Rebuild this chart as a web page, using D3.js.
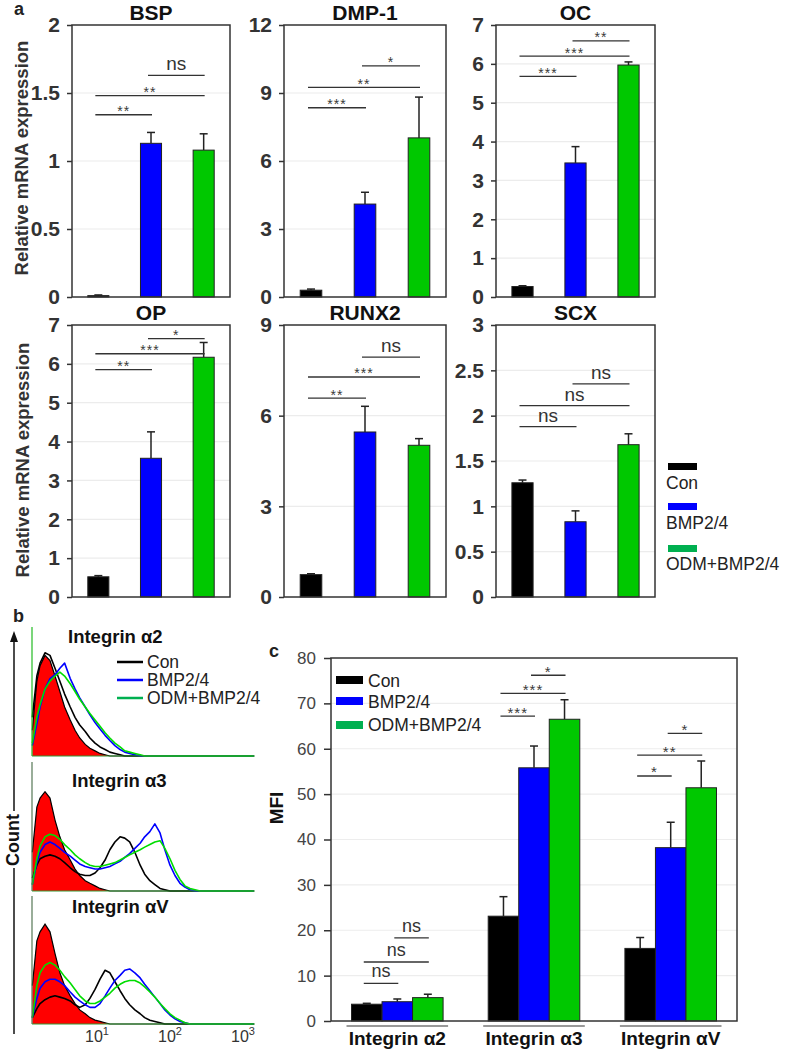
<!DOCTYPE html>
<html><head><meta charset="utf-8">
<script src="https://cdn.jsdelivr.net/npm/d3@7"></script>
<style>body{margin:0;background:#fff}svg{display:block}</style>
</head><body>
<script>
// ================= DATA =================
const groups = ["Con", "BMP2/4", "ODM+BMP2/4"];
const barColors = ["#000000", "#0000ff", "#00c800"];
const legendColors = ["#000000", "#0000ff", "#00b050"];

// panel a : relative mRNA expression
const genes = ["BSP", "DMP-1", "OC", "OP", "RUNX2", "SCX"];
const geneMax = [2, 12, 7, 7, 9, 3];
const geneTicks = [
  [0, 0.5, 1, 1.5, 2],
  [0, 3, 6, 9, 12],
  [0, 1, 2, 3, 4, 5, 6, 7],
  [0, 1, 2, 3, 4, 5, 6, 7],
  [0, 3, 6, 9],
  [0, 0.5, 1, 1.5, 2, 2.5, 3]
];
const geneMeans = [
  [0.01, 1.13, 1.08],
  [0.30, 4.10, 7.02],
  [0.27, 3.45, 5.97],
  [0.52, 3.57, 6.17],
  [0.74, 5.46, 5.02],
  [1.26, 0.83, 1.68]
];
const geneErrs = [
  [0.005, 0.08, 0.12],
  [0.05, 0.52, 1.80],
  [0.02, 0.42, 0.08],
  [0.03, 0.68, 0.38],
  [0.03, 0.85, 0.22],
  [0.03, 0.12, 0.12]
];
const geneSig = [
  [[0, 1, 1.34, "**"], [0, 2, 1.48, "**"], [1, 2, 1.63, "ns"]],
  [[0, 1, 8.35, "***"], [0, 2, 9.25, "**"], [1, 2, 10.2, "*"]],
  [[0, 1, 5.68, "***"], [0, 2, 6.20, "***"], [1, 2, 6.59, "**"]],
  [[0, 1, 5.85, "**"], [0, 2, 6.26, "***"], [1, 2, 6.65, "*"]],
  [[0, 1, 6.58, "**"], [0, 2, 7.28, "***"], [1, 2, 7.94, "ns"]],
  [[0, 1, 1.88, "ns"], [0, 2, 2.11, "ns"], [1, 2, 2.35, "ns"]]
];

// panel b : flow cytometry histograms (fluorescence channel vs relative count, % of panel height)
const histTitles = ["Integrin \u03b12", "Integrin \u03b13", "Integrin \u03b1V"];
const fluor = [1.3, 1.5, 1.66, 1.94, 2.27, 2.66, 3.1, 3.6, 4.3, 5.0, 5.8, 6.9, 8.0, 9.4, 11, 12.9, 15, 17.6,
  20.7, 24, 28, 33, 39, 45, 53, 62, 73, 85, 100, 117, 137, 160, 188, 220, 258, 1400];
const isoA2 = [20,58,70,78,74,62,50,38,28,20,14,9,6,4,2,1,0,0,0,0,0,0,0,0,0,0,0,0,0,0,0,0,0,0,0,0];
const conA2 = [30,62,72,80,78,68,58,48,38,30,24,19,14,10,7,5,3,2,1,0,0,0,0,0,0,0,0,0,0,0,0,0,0,0,0,0];
const bmpA2 = [8,25,38,52,60,63,68,72,60,52,45,38,32,26,21,16,12,8,5,3,2,1,0,0,0,0,0,0,0,0,0,0,0,0,0,0];
const odmA2 = [10,30,40,52,58,62,65,62,56,50,44,38,33,28,23,18,14,10,7,4,3,2,1,0,0,0,0,0,0,0,0,0,0,0,0,0];
const isoA3 = [30,65,72,77,72,55,42,32,24,17,12,8,6,4,2,1,0,0,0,0,0,0,0,0,0,0,0,0,0,0,0,0,0,0,0,0];
const conA3 = [10,20,25,27,28,27,25,22,18,15,13,12,12,14,18,24,32,38,42,41,38,30,20,13,8,5,2,1,0,0,0,0,0,0,0,0];
const bmpA3 = [5,22,30,36,38,36,33,30,27,24,21,19,18,17,17,18,19,21,23,26,29,33,37,42,46,52,45,32,20,12,6,3,1,0,0,0];
const odmA3 = [5,25,35,42,44,43,40,36,32,28,25,22,20,19,19,20,21,22,24,26,28,30,32,34,36,38,39,33,25,16,9,4,2,1,0,0];
const isoAV = [30,65,72,78,72,55,40,30,22,16,11,8,5,3,2,1,0,0,0,0,0,0,0,0,0,0,0,0,0,0,0,0,0,0,0,0];
const conAV = [5,12,16,19,21,22,21,20,18,15,13,15,20,27,35,42,40,33,26,20,15,11,8,5,3,2,1,0,0,0,0,0,0,0,0,0];
const bmpAV = [5,20,28,33,35,35,33,30,25,21,18,15,13,13,16,22,28,34,38,42,43,40,36,31,26,21,16,11,7,4,2,1,0,0,0,0];
const odmAV = [5,30,40,46,48,46,42,37,32,27,22,18,16,16,18,21,24,28,31,33,34,34,32,29,25,21,16,12,8,5,3,1,0,0,0,0];
const histIso = [isoA2, isoA3, isoAV];
const histSeries = [[conA2, bmpA2, odmA2], [conA3, bmpA3, odmA3], [conAV, bmpAV, odmAV]];
const histColors = ["#000000", "#0000ff", "#00dd00"];
const fluorTicks = [10, 100, 1000];

// panel c : MFI
const integrins = ["Integrin \u03b12", "Integrin \u03b13", "Integrin \u03b1V"];
const mfiMeans = [[3.7, 4.25, 5.15], [23.1, 55.8, 66.5], [16.0, 38.2, 51.4]];
const mfiErrs = [[0.2, 0.6, 0.75], [4.3, 4.8, 4.3], [2.4, 5.6, 5.9]];
const mfiTicks = [0, 10, 20, 30, 40, 50, 60, 70, 80];
const mfiSig = [
  [[0, 1, 8.3, "ns"], [0, 2, 13.0, "ns"], [1, 2, 18.3, "ns"]],
  [[0, 1, 67.2, "***"], [0, 2, 72.2, "***"], [1, 2, 76.2, "*"]],
  [[0, 1, 54.0, "*"], [0, 2, 58.6, "**"], [1, 2, 63.4, "*"]]
];

// ================= DRAW =================
const F = "'Liberation Sans', Arial, Helvetica, sans-serif";
const svg = d3.select("body").append("svg").attr("width", 787).attr("height", 1052)
  .attr("font-family", F);

function txt(g, x, y, s, size, weight, anchor, fill) {
  return g.append("text").attr("x", x).attr("y", y).text(s)
    .attr("font-size", size).attr("font-weight", weight || "normal")
    .attr("text-anchor", anchor || "start").attr("fill", fill || "#222");
}

// ---------- panel a
const aCols = [[72, 230], [284, 446], [496, 655]];
const aRows = [[25, 297], [325, 597]];
txt(svg, 14, 15, "a", 18, "bold");

genes.forEach((gName, i) => {
  const [x0, x1] = aCols[i % 3];
  const [y0, y1] = aRows[Math.floor(i / 3)];
  const x = d3.scaleBand().domain(groups).range([x0, x1]).paddingInner(0.6).paddingOuter(0.3);
  const y = d3.scaleLinear().domain([0, geneMax[i]]).range([y1, y0]);
  const g = svg.append("g");
  const cx = j => x(groups[j]) + x.bandwidth() / 2;

  g.selectAll("line.grid").data(geneTicks[i].slice(1, -1)).join("line")
    .attr("x1", x0).attr("x2", x1).attr("y1", d => y(d)).attr("y2", d => y(d))
    .attr("stroke", "#ececec").attr("stroke-width", 1.2);

  g.selectAll("line.err").data(geneMeans[i]).join("line")
    .attr("x1", (d, j) => cx(j)).attr("x2", (d, j) => cx(j))
    .attr("y1", d => y(d)).attr("y2", (d, j) => y(d + geneErrs[i][j]))
    .attr("stroke", "#222").attr("stroke-width", 1.5);
  g.selectAll("line.cap").data(geneMeans[i]).join("line")
    .attr("x1", (d, j) => cx(j) - 4).attr("x2", (d, j) => cx(j) + 4)
    .attr("y1", (d, j) => y(d + geneErrs[i][j])).attr("y2", (d, j) => y(d + geneErrs[i][j]))
    .attr("stroke", "#222").attr("stroke-width", 1.5);

  g.selectAll("rect.bar").data(geneMeans[i]).join("rect")
    .attr("x", (d, j) => x(groups[j])).attr("width", x.bandwidth())
    .attr("y", d => y(d)).attr("height", d => y1 - y(d))
    .attr("fill", (d, j) => barColors[j]).attr("stroke", "#222").attr("stroke-width", 1);

  g.append("rect").attr("x", x0).attr("y", y0).attr("width", x1 - x0).attr("height", y1 - y0)
    .attr("fill", "none").attr("stroke", "#333").attr("stroke-width", 1.5);

  const ax = g.append("g").attr("transform", `translate(${x0},0)`)
    .call(d3.axisLeft(y).tickValues(geneTicks[i]).tickFormat(d3.format("~g")).tickSize(5).tickPadding(7));
  ax.select(".domain").remove();
  ax.selectAll(".tick line").attr("stroke", "#333").attr("stroke-width", 1.5);
  ax.selectAll(".tick text").attr("font-family", F).attr("font-size", 21)
    .attr("font-weight", "bold").attr("fill", "#333");

  txt(g, (x0 + x1) / 2, y0 - 5, gName, 21, "bold", "middle", "#111");

  geneSig[i].forEach(([a, b, v, lab]) => {
    const xa = cx(a) - 3, xb = cx(b) + 1, yy = y(v);
    g.append("line").attr("x1", xa).attr("x2", xb).attr("y1", yy).attr("y2", yy)
      .attr("stroke", "#333").attr("stroke-width", 1.3);
    if (lab === "ns") txt(g, (xa + xb) / 2, yy - 5, lab, 19, "normal", "middle", "#333");
    else txt(g, (xa + xb) / 2, yy + 1.5, lab, 14, "normal", "middle", "#3a3a3a").attr("letter-spacing", 1);
  });
});

[[28, 158], [29, 460]].forEach(([lx, ly]) => {
  svg.append("text").attr("transform", `translate(${lx},${ly}) rotate(-90)`)
    .attr("text-anchor", "middle").attr("font-size", 18.5).attr("font-weight", "bold")
    .attr("fill", "#333").text("Relative mRNA expression");
});

// legend a
const legA = svg.append("g");
const legAY = [463, 503, 545], legATY = [489, 529, 570];
groups.forEach((gr, j) => {
  legA.append("rect").attr("x", 668).attr("y", legAY[j]).attr("width", 29).attr("height", 7)
    .attr("fill", legendColors[j]);
  txt(legA, 666, legATY[j], gr, 17.5, "normal", "start", "#222");
});

// ---------- panel b
txt(svg, 13, 622, "b", 18, "bold");
const bX = [32, 255];
const bRows = [[627, 756], [762, 891], [896, 1024]];
const bx = d3.scaleLog().domain([1, 1000]).range([24, 243]);
const bTitleX = [68, 72, 72], bTitleY = [643, 787, 913];

bRows.forEach(([t, b], k) => {
  const y = d3.scaleLinear().domain([0, 100]).range([b, t]);
  const g = svg.append("g");
  const area = d3.area().x((d, i) => bx(fluor[i])).y0(b).y1(d => y(d));
  const line = d3.line().x((d, i) => bx(fluor[i])).y(d => y(d));
  g.append("path").datum(histIso[k]).attr("d", area).attr("fill", "#ff0000");
  g.append("path").datum(histIso[k]).attr("d", line).attr("fill", "none")
    .attr("stroke", "#000").attr("stroke-width", 1.2);
  histSeries[k].forEach((s, j) => {
    g.append("path").datum(s).attr("d", line).attr("fill", "none")
      .attr("stroke", histColors[j]).attr("stroke-width", 1.6).attr("stroke-linejoin", "round");
  });
  g.append("line").attr("x1", bX[0]).attr("x2", bX[0]).attr("y1", t).attr("y2", b)
    .attr("stroke", k === 0 ? "#22bb22" : "#557755").attr("stroke-width", 1.2);
  g.append("line").attr("x1", bX[0]).attr("x2", bX[1]).attr("y1", b).attr("y2", b)
    .attr("stroke", "#339933").attr("stroke-width", 1.2);
  txt(g, bTitleX[k], bTitleY[k], histTitles[k], 18.5, "bold", "start", "#111");
});

fluorTicks.forEach((v) => {
  const tx = svg.append("text").attr("x", bx(v)).attr("y", 1042).attr("text-anchor", "middle")
    .attr("font-size", 16).attr("fill", "#333");
  tx.append("tspan").text("10");
  tx.append("tspan").text(String(Math.round(Math.log10(v)))).attr("font-size", 11).attr("dy", -7);
});

// Count axis with arrow
svg.append("line").attr("x1", 14).attr("x2", 14).attr("y1", 640).attr("y2", 811)
  .attr("stroke", "#111").attr("stroke-width", 1.5);
svg.append("line").attr("x1", 14).attr("x2", 14).attr("y1", 868).attr("y2", 1034)
  .attr("stroke", "#111").attr("stroke-width", 1.5);
svg.append("path").attr("d", "M14,631 L10,642 L18,642 Z").attr("fill", "#111");
svg.append("text").attr("transform", "translate(19,840) rotate(-90)").attr("text-anchor", "middle")
  .attr("font-size", 18).attr("font-weight", "bold").attr("fill", "#111").text("Count");

// legend b
const legBY = [662, 680, 698];
groups.forEach((gr, j) => {
  svg.append("line").attr("x1", 117).attr("x2", 143).attr("y1", legBY[j]).attr("y2", legBY[j])
    .attr("stroke", j === 2 ? "#00b050" : histColors[j]).attr("stroke-width", 2.5);
  txt(svg, 147, legBY[j] + 6, gr, 17.5, "normal", "start", "#222");
});

// ---------- panel c
txt(svg, 269, 657, "c", 18, "bold");
const cX = [331, 737], cY = [658, 1021];
const x0c = d3.scaleBand().domain(integrins).range(cX).paddingInner(0.33).paddingOuter(0.15);
const x1c = d3.scaleBand().domain(groups).range([0, x0c.bandwidth()]);
const yc = d3.scaleLinear().domain([0, 80]).range([cY[1], cY[0]]);
const gc = svg.append("g");

gc.selectAll("line.grid").data(mfiTicks.slice(1, -1)).join("line")
  .attr("x1", cX[0]).attr("x2", cX[1]).attr("y1", d => yc(d)).attr("y2", d => yc(d))
  .attr("stroke", "#ededed").attr("stroke-width", 1.2);

integrins.forEach((it, k) => {
  const cx = j => x0c(it) + x1c(groups[j]) + x1c.bandwidth() / 2;
  const g = gc.append("g");
  g.selectAll("line.err").data(mfiMeans[k]).join("line")
    .attr("x1", (d, j) => cx(j)).attr("x2", (d, j) => cx(j))
    .attr("y1", d => yc(d)).attr("y2", (d, j) => yc(d + mfiErrs[k][j]))
    .attr("stroke", "#222").attr("stroke-width", 1.5);
  g.selectAll("line.cap").data(mfiMeans[k]).join("line")
    .attr("x1", (d, j) => cx(j) - 4).attr("x2", (d, j) => cx(j) + 4)
    .attr("y1", (d, j) => yc(d + mfiErrs[k][j])).attr("y2", (d, j) => yc(d + mfiErrs[k][j]))
    .attr("stroke", "#222").attr("stroke-width", 1.5);
  g.selectAll("rect").data(mfiMeans[k]).join("rect")
    .attr("x", (d, j) => x0c(it) + x1c(groups[j])).attr("width", x1c.bandwidth())
    .attr("y", d => yc(d)).attr("height", d => cY[1] - yc(d))
    .attr("fill", (d, j) => barColors[j]).attr("stroke", "#222").attr("stroke-width", 1);
  mfiSig[k].forEach(([a, b, v, lab]) => {
    const xa = cx(a) - 3, xb = cx(b) + 1, yy = yc(v);
    g.append("line").attr("x1", xa).attr("x2", xb).attr("y1", yy).attr("y2", yy)
      .attr("stroke", "#333").attr("stroke-width", 1.3);
    if (lab === "ns") txt(g, (xa + xb) / 2, yy - 6, lab, 18, "normal", "middle", "#333");
    else txt(g, (xa + xb) / 2, yy + 1.5, lab, 15, "normal", "middle", "#3a3a3a").attr("letter-spacing", 1);
  });
  g.append("line").attr("x1", x0c(it) - 5).attr("x2", x0c(it) + x0c.bandwidth() + 5)
    .attr("y1", 1026).attr("y2", 1026).attr("stroke", "#999").attr("stroke-width", 2);
  txt(g, x0c(it) + x0c.bandwidth() / 2, 1045, it, 19, "bold", "middle", "#111");
});

gc.append("rect").attr("x", cX[0]).attr("y", cY[0]).attr("width", cX[1] - cX[0]).attr("height", cY[1] - cY[0])
  .attr("fill", "none").attr("stroke", "#333").attr("stroke-width", 1.5);
const axc = gc.append("g").attr("transform", `translate(${cX[0]},0)`)
  .call(d3.axisLeft(yc).tickValues(mfiTicks).tickSize(7).tickPadding(8));
axc.select(".domain").remove();
axc.selectAll(".tick line").attr("stroke", "#333").attr("stroke-width", 1.5);
axc.selectAll(".tick text").attr("font-family", F).attr("font-size", 17).attr("fill", "#444");
svg.append("text").attr("transform", "translate(283,808) rotate(-90)").attr("text-anchor", "middle")
  .attr("font-size", 19).attr("font-weight", "bold").attr("fill", "#111").text("MFI");

// legend c
const legCY = [676, 697, 721], legCTY = [687, 708, 731];
groups.forEach((gr, j) => {
  svg.append("rect").attr("x", 336).attr("y", legCY[j]).attr("width", 27).attr("height", 8)
    .attr("fill", legendColors[j]);
  txt(svg, 368, legCTY[j], gr, 17.5, "normal", "start", "#222");
});
</script>
</body></html>
